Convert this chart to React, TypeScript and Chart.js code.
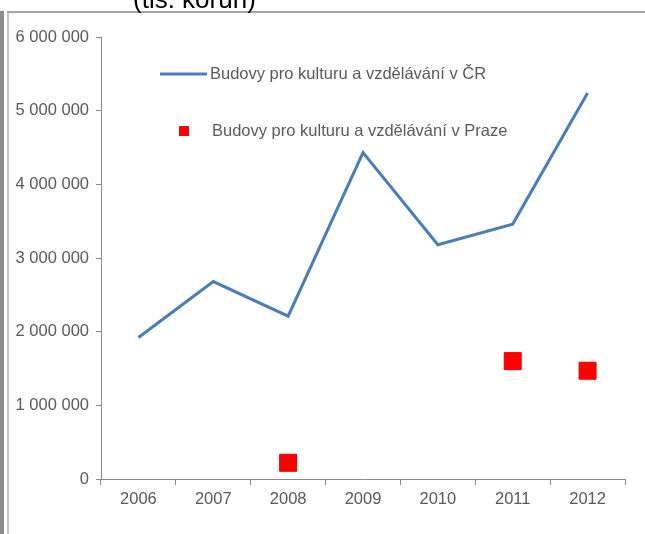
import React, { useEffect, useRef } from "react";
import { Chart, registerables } from "chart.js";

Chart.register(...registerables);

const years = ["2006", "2007", "2008", "2009", "2010", "2011", "2012"];
const czValues = [1920000, 2680000, 2210000, 4430000, 3180000, 3460000, 5240000];
const pragueValues = [null, null, 220000, null, null, 1600000, 1470000];
const seriesNames = [
  "Budovy pro kulturu a vzdělávání v ČR",
  "Budovy pro kulturu a vzdělávání v Praze",
];
const unitTitle = "(tis. korun)";
const yTicks = [0, 1000000, 2000000, 3000000, 4000000, 5000000, 6000000];

const FONT = "'Liberation Sans', Arial, sans-serif";
const FS = 16.5;
const TEXT = "#5a5a5a";
const AXIS = "#8a8a8a";

const fmt = (v: number) =>
  String(Math.round(v)).replace(/\B(?=(\d{3})+(?!\d))/g, " ");

const framePlugin = {
  id: "frame",
  beforeDraw(chart: any) {
    const ctx = chart.ctx;
    ctx.save();
    ctx.fillStyle = "#ffffff";
    ctx.fillRect(0, 0, chart.width, chart.height);
    // left double border
    ctx.fillStyle = "#8c8c8c";
    ctx.fillRect(0, 11, 4, chart.height - 11);
    ctx.fillStyle = "#c4c4c4";
    ctx.fillRect(7, 11, 2, chart.height - 11);
    // top border
    ctx.fillStyle = "#a6a6a6";
    ctx.fillRect(7, 11, chart.width - 7, 2);
    // cut-off unit title
    ctx.fillStyle = "#000000";
    ctx.font = `26px ${FONT}`;
    ctx.textAlign = "left";
    ctx.textBaseline = "alphabetic";
    ctx.fillText(unitTitle, 133, 8);
    ctx.restore();
  },
  afterDraw(chart: any) {
    const ctx = chart.ctx;
    const ds = chart.data.datasets;
    ctx.save();
    ctx.font = `${FS}px ${FONT}`;
    ctx.fillStyle = TEXT;
    ctx.textBaseline = "middle";
    ctx.textAlign = "left";
    // row 1: line sample
    ctx.strokeStyle = ds[0].borderColor;
    ctx.lineWidth = 3;
    ctx.beginPath();
    ctx.moveTo(160, 74);
    ctx.lineTo(207, 74);
    ctx.stroke();
    ctx.fillText(ds[0].label, 210, 74);
    // row 2: square marker
    ctx.fillStyle = ds[1].backgroundColor;
    ctx.fillRect(179, 126, 10, 10);
    ctx.fillStyle = TEXT;
    ctx.fillText(ds[1].label, 212, 131);
    ctx.restore();
  },
};

export default function App() {
  const ref = useRef<HTMLCanvasElement>(null);
  useEffect(() => {
    if (!ref.current) return;
    const chart = new Chart(ref.current, {
      type: "line",
      data: {
        labels: years,
        datasets: [
          {
            label: seriesNames[0],
            data: czValues,
            borderColor: "#4a7ebb",
            backgroundColor: "#4a7ebb",
            borderWidth: 3,
            pointRadius: 0,
            tension: 0,
          },
          {
            label: seriesNames[1],
            data: pragueValues,
            showLine: false,
            pointStyle: "rect",
            pointRadius: 12,
            backgroundColor: "#ff0000",
            borderColor: "#e00000",
            borderWidth: 1,
          },
        ],
      },
      options: {
        animation: false,
        responsive: false,
        devicePixelRatio: 1,
        layout: { padding: { left: 0, right: 20, top: 37, bottom: 25 } },
        plugins: {
          legend: { display: false },
          tooltip: { enabled: false },
          title: { display: false },
        },
        scales: {
          x: {
            offset: true,
            grid: {
              display: true,
              drawOnChartArea: false,
              drawTicks: true,
              tickLength: 6,
              color: AXIS,
              offset: true,
            },
            border: { display: true, color: AXIS, width: 1 },
            ticks: {
              color: TEXT,
              font: { family: FONT, size: FS },
              padding: 5,
              maxRotation: 0,
            },
            afterFit: (s: any) => {
              s.height = 30;
            },
          },
          y: {
            min: 0,
            max: 6000000,
            afterBuildTicks: (s: any) => {
              s.ticks = yTicks.map((v) => ({ value: v }));
            },
            grid: {
              display: true,
              drawOnChartArea: false,
              drawTicks: true,
              tickLength: 5,
              color: AXIS,
            },
            border: { display: true, color: AXIS, width: 1 },
            ticks: {
              color: TEXT,
              font: { family: FONT, size: FS },
              padding: 7,
              callback: (v: any) => fmt(Number(v)),
            },
            afterFit: (s: any) => {
              s.width = 101;
            },
          },
        },
      },
      plugins: [framePlugin],
    });
    return () => chart.destroy();
  }, []);
  return (
    <div style={{ position: "absolute", left: 0, top: 0, width: 645, height: 534 }}>
      <canvas ref={ref} width={645} height={534} style={{ display: "block" }} />
    </div>
  );
}
